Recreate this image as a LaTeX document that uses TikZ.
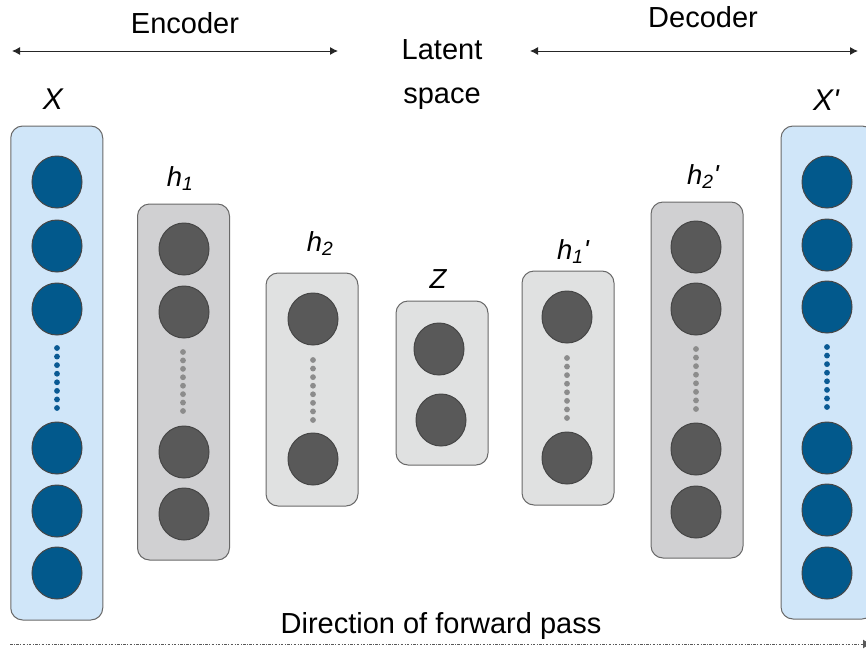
\documentclass[tikz,border=0pt]{standalone}
\usepackage{fontspec}
\setmainfont{Liberation Sans}
\usetikzlibrary{shapes.geometric,arrows.meta}

\definecolor{inblue}{RGB}{208,230,249}
\definecolor{unitblue}{RGB}{2,89,140}
\definecolor{boxdark}{RGB}{208,208,210}
\definecolor{boxlight}{RGB}{224,225,225}
\definecolor{unitgray}{RGB}{89,89,89}
\definecolor{unitedge}{RGB}{70,70,70}
\definecolor{edgegray}{RGB}{105,105,105}
\definecolor{dotgray}{RGB}{140,140,140}
\definecolor{dotblue}{RGB}{10,90,148}

\tikzset{
  layerbox/.style={draw=edgegray, line width=1pt, rounded corners=12pt,
    inner sep=0pt, minimum width=92pt},
  unit/.style={ellipse, draw=unitedge, line width=1pt, inner sep=0pt,
    minimum width=50pt, minimum height=52pt},
  blueunit/.style={unit, fill=unitblue},
  grayunit/.style={unit, fill=unitgray},
  lbl/.style={anchor=base, inner sep=0pt, font=\fontsize{29}{34}\selectfont},
  varlbl/.style={anchor=base, inner sep=0pt, font=\fontsize{27.5}{30}\selectfont\itshape},
  biglbl/.style={varlbl, font=\fontsize{30}{32}\selectfont\itshape},
  span/.style={{Latex[length=8pt,width=8pt]}-{Latex[length=8pt,width=8pt]},
    line width=1pt, black!85},
  fwdline/.style={-{Latex[length=8pt,width=9pt]}, line width=0.9pt, black!65,
    dash pattern=on 2.5pt off 1.5pt on 0.8pt off 1.5pt},
}

% column of eight dots between the upper and lower units
\newcommand{\dotcol}[4]{%
  \foreach \k in {0,...,7}
    \fill[#4] (#1, {#2 + \k*(#3 - #2)/7}) circle (2.9pt);}

\begin{document}
\begin{tikzpicture}[x=1pt, y=-1pt]
  \useasboundingbox (0,0) rectangle (866,653);
  \clip (0,0) rectangle (866,653);

  % layer boxes
  \node[layerbox, fill=inblue,   minimum height=494pt] (bX)  at (56.75,373) {};
  \node[layerbox, fill=boxdark,  minimum height=356pt] (bh1) at (183.5,382) {};
  \node[layerbox, fill=boxlight, minimum height=233pt] (bh2) at (312,389.5) {};
  \node[layerbox, fill=boxlight, minimum height=164pt] (bZ)  at (442,383) {};
  \node[layerbox, fill=boxlight, minimum height=234pt] (bh1p) at (568,388) {};
  \node[layerbox, fill=boxdark,  minimum height=356pt] (bh2p) at (697,380) {};
  \node[layerbox, fill=inblue,   minimum height=493pt, minimum width=93pt] (bXp) at (827.5,372.5) {};

  % input units
  \foreach \y [count=\i] in {182,246,309,448,511,573}
    \node[blueunit] (x\i) at (57,\y) {};
  \dotcol{57}{348}{408}{dotblue}

  % first hidden layer
  \foreach \y [count=\i] in {249,312,452,514}
    \node[grayunit] (ha\i) at (184,\y) {};
  \dotcol{183}{352}{411}{dotgray}

  % second hidden layer
  \foreach \y [count=\i] in {319,459}
    \node[grayunit] (hb\i) at (313,\y) {};
  \dotcol{313}{360}{420}{dotgray}

  % latent code
  \node[grayunit] (z1) at (439,349) {};
  \node[grayunit] (z2) at (441,420) {};

  % first decoder layer
  \foreach \y [count=\i] in {317,458}
    \node[grayunit] (hc\i) at (567,\y) {};
  \dotcol{567}{358}{418}{dotgray}

  % second decoder layer
  \foreach \y [count=\i] in {247,309,449,512}
    \node[grayunit] (hd\i) at (696,\y) {};
  \dotcol{696}{349}{409}{dotgray}

  % reconstruction units
  \foreach \y [count=\i] in {182,245,307,448,510,573}
    \node[blueunit] (xp\i) at (827,\y) {};
  \dotcol{827}{347}{407}{dotblue}

  % layer names
  \node[biglbl] (tX)  at (53,109) {X};
  \node[biglbl] (tXp) at (826,110) {X\textquotesingle};
  \node[varlbl] (th1)  at (180,186) {h\textsubscript{1}};
  \node[varlbl] (th2)  at (320,251) {h\textsubscript{2}};
  \node[varlbl] (tZ)   at (438,288) {Z};
  \node[varlbl] (th1p) at (573,259) {h\textsubscript{1}\textquotesingle};
  \node[varlbl] (th2p) at (703,184) {h\textsubscript{2}\textquotesingle};

  % section headings
  \node[lbl] (tenc) at (185,33) {Encoder};
  \node[lbl] (tdec) at (703,27) {Decoder};
  \node[lbl] (tlat1) at (442,59) {Latent};
  \node[lbl] (tlat2) at (442,103) {space};
  \node[lbl] (tfwd) at (441,633) {Direction of forward pass};

  % extent arrows
  \coordinate (encL) at (12,51);
  \coordinate (encR) at (338,51);
  \coordinate (decL) at (530,51);
  \coordinate (decR) at (858,51);
  \draw[span] (encL) -- (encR);
  \draw[span] (decL) -- (decR);

  % direction of the forward pass
  \coordinate (fwdL) at (10,644);
  \coordinate (fwdR) at (871,644);
  \draw[fwdline] (fwdL) -- (fwdR);
\end{tikzpicture}
\end{document}
